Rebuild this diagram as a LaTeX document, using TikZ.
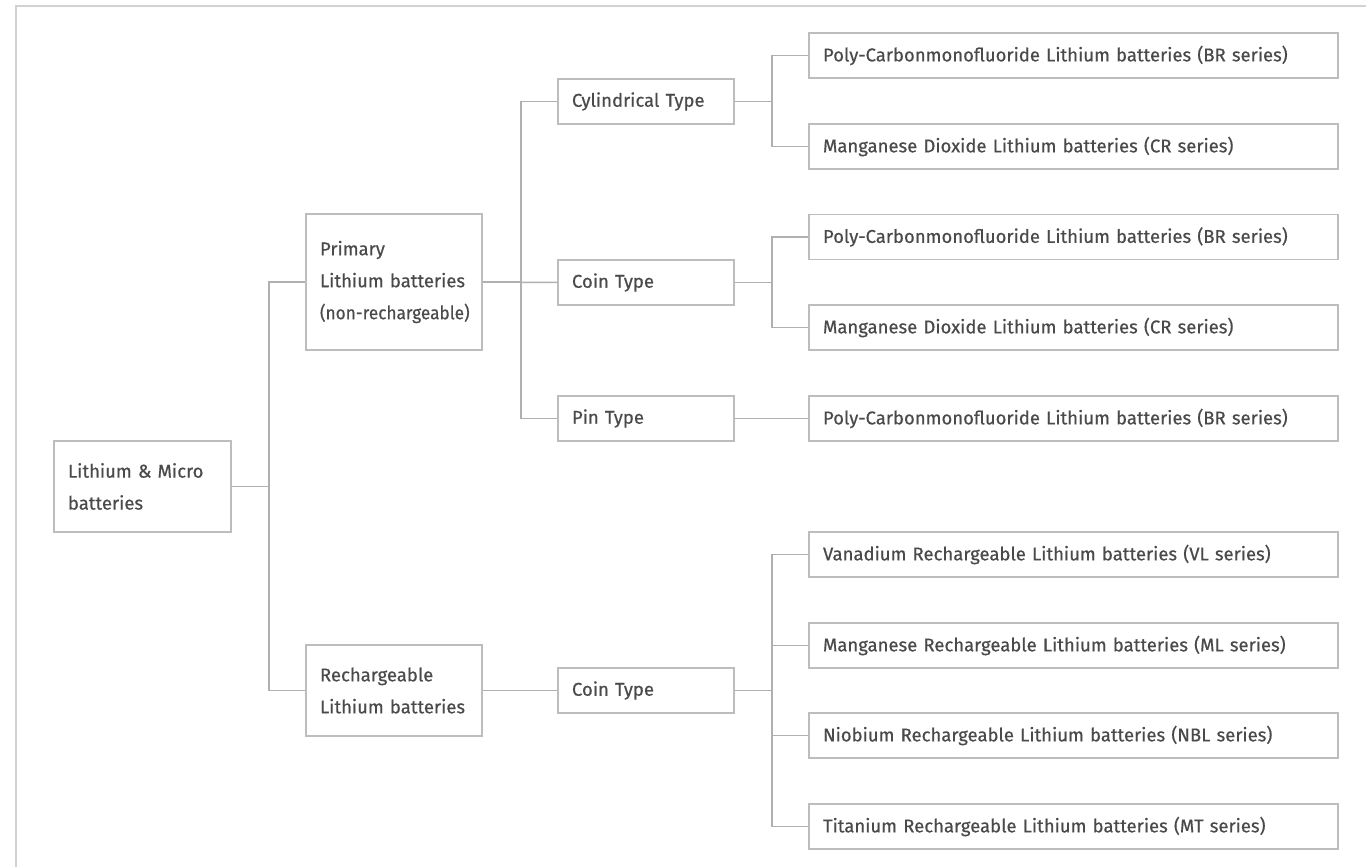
\documentclass[tikz,border=0pt]{standalone}
\usepackage{fontspec}
\usepackage{graphicx}
\setmainfont{Fira Sans}[FakeBold=0.5]
\definecolor{txt}{HTML}{4A4A4A}
\definecolor{boxline}{HTML}{BDBDBD}
\definecolor{conline}{HTML}{B0B0B0}
\definecolor{frameline}{HTML}{D2D2D2}
\tikzset{
  box/.style={draw=boxline, line width=1.5pt, text=txt, align=left, inner xsep=14pt, inner ysep=0pt,
    font=\fontsize{18.5}{32}\selectfont, anchor=center},
  mid/.style={box, text width=148pt, minimum height=45pt},
  leaf/.style={box, text width=501pt, minimum height=45pt},
  conn/.style={draw=conline, line width=1.5pt},
}
\begin{document}
\begin{tikzpicture}[x=1pt,y=-1pt]
\useasboundingbox (0,0) rectangle (1366,867);
\draw[frameline, line width=2pt] (16,867) -- (16,6) -- (1366,6);

\node[box, text width=149pt, minimum height=91pt] (root) at (142.5,486.5) {Lithium \& Micro\\batteries};
\node[box, text width=148pt, minimum height=136pt] (prim) at (394,282) {Primary\\Lithium batteries\\\scalebox{0.93}[1]{(non-rechargeable)}};
\node[box, text width=148pt, minimum height=91pt] (rech) at (394,690.5) {Rechargeable\\Lithium batteries};

\node[mid] (cyl) at (646,101.5) {Cylindrical Type};
\node[mid] (coina) at (646,282.5) {Coin Type};
\node[mid] (pin) at (646,418.5) {Pin Type};
\node[mid] (coinb) at (646,690.5) {Coin Type};

\node[leaf] (l1) at (1073.5,55.5) {Poly-Carbonmonofluoride Lithium batteries (BR series)};
\node[leaf] (l2) at (1073.5,146.5) {Manganese Dioxide Lithium batteries (CR series)};
\node[leaf] (l3) at (1073.5,237) {Poly-Carbonmonofluoride Lithium batteries (BR series)};
\node[leaf] (l4) at (1073.5,327.5) {Manganese Dioxide Lithium batteries (CR series)};
\node[leaf] (l5) at (1073.5,418.5) {Poly-Carbonmonofluoride Lithium batteries (BR series)};
\node[leaf] (l6) at (1073.5,554.5) {Vanadium Rechargeable Lithium batteries (VL series)};
\node[leaf] (l7) at (1073.5,645.5) {Manganese Rechargeable Lithium batteries (ML series)};
\node[leaf] (l8) at (1073.5,735.5) {Niobium Rechargeable Lithium batteries (NBL series)};
\node[leaf] (l9) at (1073.5,826.5) {Titanium Rechargeable Lithium batteries (MT series)};

\draw[conn] (root.east) -- ++(37,0) |- (prim.west);
\draw[conn] (root.east) -- ++(37,0) |- (rech.west);

\draw[conn] (prim.east) -- ++(38,0) |- (cyl.west);
\draw[conn] (prim.east) -- (coina.west);
\draw[conn] (prim.east) -- ++(38,0) |- (pin.west);
\draw[conn] (rech.east) -- (coinb.west);

\draw[conn] (cyl.east) -- ++(37,0) |- (l1.west);
\draw[conn] (cyl.east) -- ++(37,0) |- (l2.west);
\draw[conn] (coina.east) -- ++(37,0) |- (l3.west);
\draw[conn] (coina.east) -- ++(37,0) |- (l4.west);
\draw[conn] (pin.east) -- (l5.west);
\draw[conn] (coinb.east) -- ++(37,0) |- (l6.west);
\draw[conn] (coinb.east) -- ++(37,0) |- (l7.west);
\draw[conn] (coinb.east) -- ++(37,0) |- (l8.west);
\draw[conn] (coinb.east) -- ++(37,0) |- (l9.west);
\end{tikzpicture}
\end{document}
